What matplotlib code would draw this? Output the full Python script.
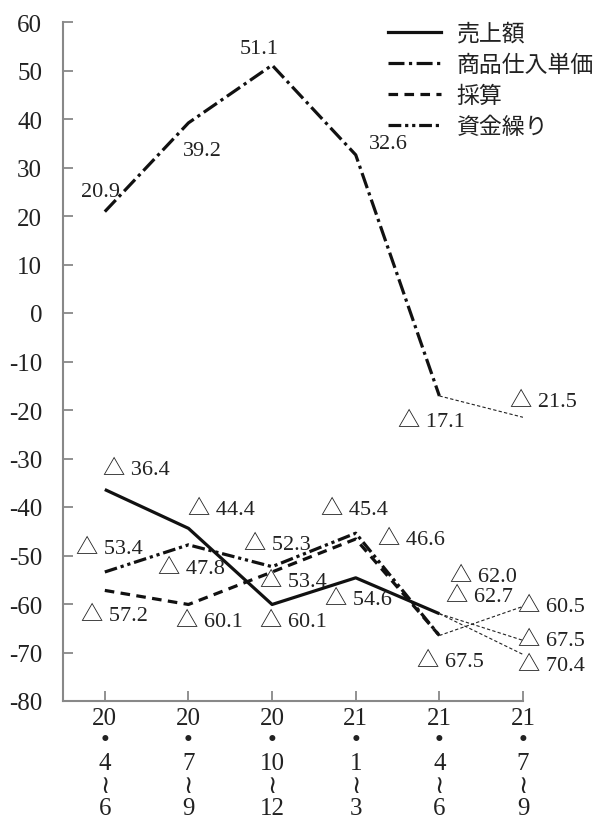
import numpy as np
import matplotlib
matplotlib.use("Agg")
from matplotlib import pyplot as plt
from matplotlib.lines import Line2D

plt.rcParams["axes.unicode_minus"] = False
FONT = ["Liberation Serif", "Noto Sans CJK JP", "DejaVu Sans"]
plt.rcParams["font.family"] = FONT

# periods (year / months)
periods = ["20\n•\n4\n≀\n6", "20\n•\n7\n≀\n9", "20\n•\n10\n≀\n12",
           "21\n•\n1\n≀\n3", "21\n•\n4\n≀\n6", "21\n•\n7\n≀\n9"]
series_names = ["売上額", "商品仕入単価", "採算", "資金繰り"]

# actual values (as drawn), periods 0..4
sales = [-36.4, -44.4, -60.1, -54.6, -62.0]
purchase_price = [20.9, 39.2, 51.1, 32.6, -17.1]
profit = [-57.2, -60.1, -53.4, -46.6, -66.5]
cash = [-53.4, -47.8, -52.3, -45.4, -66.5]

# forecast segments period 4 -> 5 (thin dashed)
forecast_start = [-17.1, -62.0, -62.0, -66.5]
forecast_end = [-21.5, -67.5, -70.4, -60.5]

# value labels and where they sit (x in periods, y in chart units)
label_text = ["20.9", "39.2", "51.1", "32.6", "△ 17.1", "△ 21.5",
              "△ 36.4", "△ 44.4", "△ 45.4", "△ 46.6",
              "△ 53.4", "△ 47.8", "△ 52.3", "△ 53.4",
              "△ 57.2", "△ 60.1", "△ 60.1", "△ 54.6",
              "△ 62.0", "△ 62.7", "△ 67.5",
              "△ 60.5", "△ 67.5", "△ 70.4"]
label_x = [-0.05, 1.17, 1.84, 3.39, 3.91, 5.24,
           0.38, 1.40, 2.98, 3.67,
           0.06, 1.03, 2.06, 2.25,
           0.12, 1.25, 2.25, 3.03,
           4.53, 4.48, 4.13,
           5.34, 5.34, 5.34]
label_y = [25.0, 33.5, 54.5, 34.9, -22.4, -18.3,
           -32.3, -40.5, -40.5, -46.8,
           -48.6, -52.7, -47.8, -55.4,
           -62.4, -63.6, -63.6, -59.0,
           -54.4, -58.5, -71.9,
           -60.6, -67.6, -72.7]

fig = plt.figure(figsize=(6.01, 8.2), dpi=100)
ax = fig.add_axes([63 / 601, 1 - 702 / 820, (523 - 63) / 601, (702 - 23) / 820])

x = np.arange(len(sales))
lw = 2.3
styles = [
    dict(linestyle="-"),
    dict(dashes=(5, 1.4, 1, 1.4)),
    dict(dashes=(3, 2)),
    dict(dashes=(4, 1.2, 1, 1.2, 1, 1.2)),
]
for vals, st in zip([sales, purchase_price, profit, cash], styles):
    ax.plot(x, vals, color="#111111", lw=lw, solid_capstyle="butt",
            dash_capstyle="butt", **st)

for s, e in zip(forecast_start, forecast_end):
    ax.plot([4, 5], [s, e], color="#222222", lw=0.8, dashes=(3, 2))

for t, lx, ly in zip(label_text, label_x, label_y):
    ax.text(lx, ly, t, ha="center", va="center", fontsize=16,
            color="#222222", family=FONT)

ax.set_xlim(-0.5, 5)
ax.set_ylim(-80, 60)
ax.set_yticks(np.arange(-80, 61, 10))
ax.set_xticks(np.arange(len(periods)))
ax.set_xticklabels(periods, linespacing=1.04)
ax.tick_params(direction="in", length=7, width=1.3, color="#888888",
               labelsize=18, labelcolor="#222222")
ax.tick_params(axis="y", pad=15)
ax.tick_params(axis="x", pad=4)
for side in ["top", "right"]:
    ax.spines[side].set_visible(False)
for side in ["left", "bottom"]:
    ax.spines[side].set_color("#888888")
    ax.spines[side].set_linewidth(1.5)

handles = [Line2D([], [], color="#111111", lw=lw, **st) for st in styles]
leg = ax.legend(handles, series_names, loc="upper left",
                bbox_to_anchor=(388 / 601, 1 - 23 / 820),
                bbox_transform=fig.transFigure, frameon=False,
                fontsize=16.5, handlelength=2.3, handletextpad=0.7,
                labelspacing=0.35, borderpad=0, borderaxespad=0)
for txt in leg.get_texts():
    txt.set_family(["Noto Sans CJK JP", "DejaVu Sans"])
    txt.set_color("#222222")

fig.savefig("out.png", dpi=100)
